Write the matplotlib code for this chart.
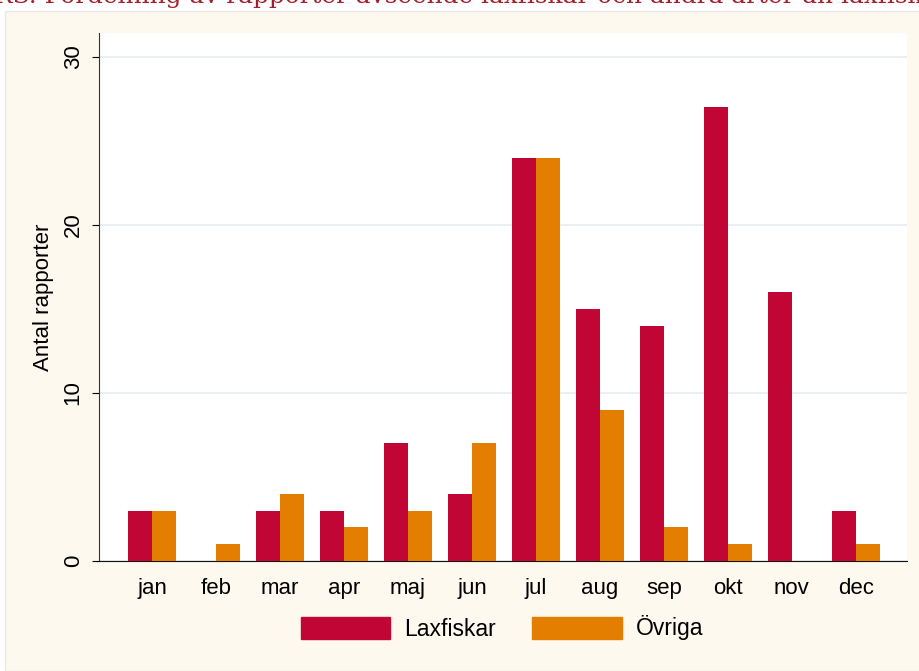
import matplotlib.pyplot as plt
from matplotlib.patches import Rectangle, Patch
import numpy as np

plt.rcParams['font.family'] = ['Liberation Sans', 'DejaVu Sans']

months = ['jan', 'feb', 'mar', 'apr', 'maj', 'jun', 'jul', 'aug', 'sep', 'okt', 'nov', 'dec']
laxfiskar = [3, 0, 3, 3, 7, 4, 24, 15, 14, 27, 16, 3]
ovriga = [3, 1, 4, 2, 3, 7, 24, 9, 2, 1, 0, 1]

red = '#C10534'
orange = '#E37E00'
cream = '#FEF9EE'

W, H = 919, 671
fig = plt.figure(figsize=(W / 100, H / 100), dpi=100)
fig.patch.set_facecolor('white')

# cream background panel
fig.patches.append(Rectangle((5 / W, 0), 1, (H - 11) / H, transform=fig.transFigure,
                             facecolor=cream, edgecolor='#E6E8EC', lw=1, zorder=-10))

# cut-off title at the top
fig.text(-0.006, 1 - 3 / H, 'RS. Fördelning av rapporter avseende laxfiskar och andra arter än laxfisk',
         color='#A31F2E', fontsize=17.8, family=['DejaVu Serif'], ha='left', va='baseline')

ax = fig.add_axes([99 / W, (H - 561) / H, (907 - 99) / W, (561 - 33) / H])
ax.set_facecolor('white')

x = np.arange(len(months))
w = 0.375
ax.bar(x - w / 2, laxfiskar, w, color=red, label='Laxfiskar', zorder=3)
ax.bar(x + w / 2, ovriga, w, color=orange, label='Övriga', zorder=3)

ax.set_xlim(-0.83, 11.8)
ax.set_ylim(0, 31.43)
ax.set_yticks([0, 10, 20, 30])
ax.set_xticks(x)
ax.set_xticklabels(months, fontsize=16)
ax.tick_params(axis='x', length=0, pad=12)
ax.tick_params(axis='y', length=5, labelsize=16, pad=6)
for lab in ax.get_yticklabels():
    lab.set_rotation(90)
    lab.set_va('center')
ax.yaxis.grid(True, color='#E8EEF3', lw=1.5, zorder=0)
ax.set_axisbelow(True)
ax.spines['top'].set_visible(False)
ax.spines['right'].set_visible(False)
ax.spines['left'].set_color('#333333')
ax.spines['bottom'].set_color('#111111')
ax.set_ylabel('Antal rapporter', fontsize=16, labelpad=6)

handles = [Patch(color=red), Patch(color=orange)]
fig.legend(handles, ['Laxfiskar', 'Övriga'], loc='center', bbox_to_anchor=(502 / W, 1 - 628 / H),
           ncol=2, frameon=False, fontsize=16.5, handlelength=3.9, handleheight=1.1,
           columnspacing=1.6, handletextpad=0.6)

fig.savefig('out.png', dpi=100, facecolor=fig.get_facecolor())
